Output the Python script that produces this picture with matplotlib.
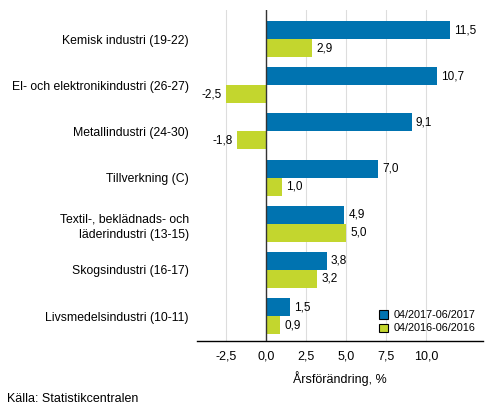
import matplotlib
matplotlib.use("Agg")
from matplotlib import pyplot as plt
import numpy as np

plt.rcParams['font.family'] = ['Liberation Sans', 'DejaVu Sans']

categories = [
    "Kemisk industri (19-22)",
    "El- och elektronikindustri (26-27)",
    "Metallindustri (24-30)",
    "Tillverkning (C)",
    "Textil-, beklädnads- och\nläderindustri (13-15)",
    "Skogsindustri (16-17)",
    "Livsmedelsindustri (10-11)",
]
series_2017 = [11.5, 10.7, 9.1, 7.0, 4.9, 3.8, 1.5]
series_2016 = [2.9, -2.5, -1.8, 1.0, 5.0, 3.2, 0.9]
labels = ["04/2017-06/2017", "04/2016-06/2016"]
xticks = [-2.5, 0.0, 2.5, 5.0, 7.5, 10.0]

blue = "#0073b0"
green = "#c3d62e"

fig = plt.figure(figsize=(4.93, 4.16), dpi=100)
ax = fig.add_axes([197 / 493, 1 - 341 / 416, (483 - 197) / 493, (341 - 10) / 416])

y = np.arange(len(categories))
h = 0.39
b1 = ax.barh(y - h / 2, series_2017, height=h, color=blue, label=labels[0], zorder=3)
b2 = ax.barh(y + h / 2, series_2016, height=h, color=green, label=labels[1], zorder=3)

def fmt(v):
    return ("%.1f" % v).replace(".", ",")

for bars, vals in ((b1, series_2017), (b2, series_2016)):
    for bar, v in zip(bars, vals):
        cy = bar.get_y() + bar.get_height() / 2
        if v >= 0:
            ax.annotate(fmt(v), (v, cy), xytext=(3, 0), textcoords="offset points",
                        ha="left", va="center", fontsize=8.5)
        else:
            ax.annotate(fmt(v), (v, cy), xytext=(-3, 0), textcoords="offset points",
                        ha="right", va="center", fontsize=8.5)

ax.set_xlim(-4.3, 13.56)
ax.set_ylim(6.54, -0.63)
ax.set_xticks(xticks)
ax.set_xticklabels([fmt(t) for t in xticks], fontsize=9)
ax.set_yticks(y)
ax.set_yticklabels(categories, fontsize=8.8, linespacing=1.45)
ax.tick_params(axis="y", length=0, pad=6)
ax.tick_params(axis="x", length=0, pad=7)
ax.grid(axis="x", color="#dddddd", linewidth=0.8, zorder=0)
ax.axvline(0, color="#333333", linewidth=1, zorder=4)
for s in ["top", "right", "left"]:
    ax.spines[s].set_visible(False)
ax.spines["bottom"].set_linewidth(1)
ax.set_xlabel("Årsförändring, %", fontsize=9, labelpad=6)

leg = ax.legend(loc="lower right", frameon=False, fontsize=7.8, handlelength=0.8,
                handleheight=0.8, handletextpad=0.5, borderaxespad=0.3, labelspacing=0.3)
for p in leg.get_patches():
    p.set_edgecolor("black")
    p.set_linewidth(0.8)

fig.text(7 / 493, 1 - 399 / 416, "Källa: Statistikcentralen", fontsize=9, va="center")

fig.savefig("out.png", dpi=100)
